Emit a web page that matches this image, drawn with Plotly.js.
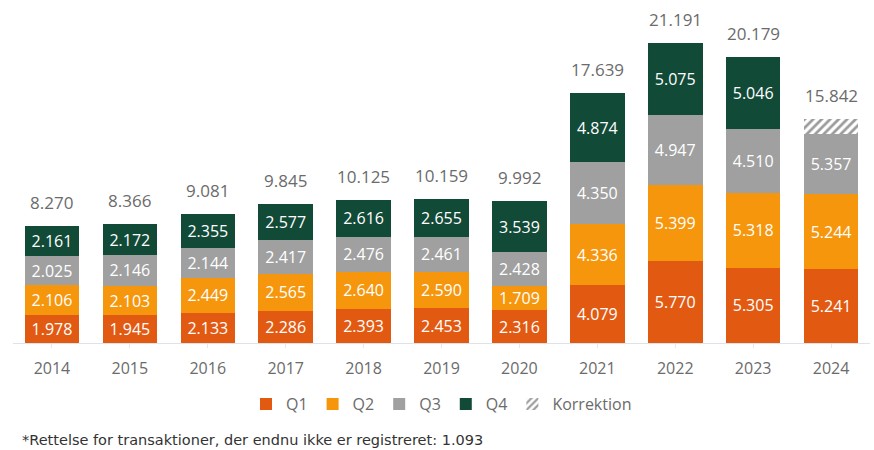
<!DOCTYPE html>
<html><head><meta charset="utf-8">
<script src="https://cdn.plot.ly/plotly-3.0.1.min.js"></script>
<style>body{margin:0;background:#fff}#c{width:874px;height:450px}</style>
</head><body><div id="c"></div>
<script>
const years = ['2014','2015','2016','2017','2018','2019','2020','2021','2022','2023','2024'];
const q1 = [1978,1945,2133,2286,2393,2453,2316,4079,5770,5305,5241];
const q2 = [2106,2103,2449,2565,2640,2590,1709,4336,5399,5318,5244];
const q3 = [2025,2146,2144,2417,2476,2461,2428,4350,4947,4510,5357];
const q4 = [2161,2172,2355,2577,2616,2655,3539,4874,5075,5046,0];
const correction = [0,0,0,0,0,0,0,0,0,0,1093];
const totals = [8270,8366,9081,9845,10125,10159,9992,17639,21191,20179,15842];

const fmt = v => v ? (v/1000).toFixed(3) : '';
const font = "'Open Sans', Lato, sans-serif";
const seg = (name, y, color, text) => ({
  type:'bar', name, x: years, y, text, marker:{color},
  textposition:'inside', insidetextanchor:'middle', textangle:0, constraintext:'none',
  textfont:{color:'#ffffff', size:16, family:font}, hoverinfo:'none'
});
const q3drawn = q3.map((v,i)=>v - correction[i]);
const traces = [
  seg('Q1', q1, '#e25a12', q1.map(fmt)),
  seg('Q2', q2, '#f5960c', q2.map(fmt)),
  seg('Q3', q3drawn, '#a0a0a0', q3.map(fmt)),
  seg('Q4', q4, '#124a38', q4.map(fmt)),
  {type:'bar', name:'Korrektion', x: years, y: correction, hoverinfo:'none',
   marker:{color:'#ffffff', pattern:{shape:'/', fgcolor:'#9a9a9a', bgcolor:'#ffffff', size:6, solidity:0.45}}}
];
const annotations = years.map((yr,i)=>({
  x: i, y: totals[i], xref:'x', yref:'y', text: fmt(totals[i]), showarrow:false,
  yanchor:'bottom', yshift:10, font:{size:17, color:'#6b6b6b', family:font}
}));
annotations.push({xref:'paper', yref:'paper', x:0.008, y:-0.285, xanchor:'left', yanchor:'middle',
  text:'*Rettelse for transaktioner, der endnu ikke er registreret: 1.093', showarrow:false,
  font:{size:14.5, color:'#333333', family:"'DejaVu Sans', sans-serif"}});
const layout = {
  width:874, height:450, barmode:'stack', bargap:0.3,
  margin:{l:13, r:4, t:3, b:107},
  paper_bgcolor:'#ffffff', plot_bgcolor:'#ffffff',
  font:{family:font, color:'#6b6b6b'},
  xaxis:{type:'category', showgrid:false, showline:true, linecolor:'#dde3e8', linewidth:1,
    ticks:'outside', ticklen:4, tickcolor:'#e3e8ec', ticklabelstandoff:7,
    tickfont:{size:16, color:'#6b6b6b', family:font}},
  yaxis:{range:[0,24000], visible:false, showgrid:false, zeroline:false},
  showlegend:true,
  legend:{orientation:'h', x:0.5, xanchor:'center', y:-0.18, yanchor:'middle',
    font:{size:16, color:'#6b6b6b', family:font}, traceorder:'normal'},
  annotations
};
Plotly.newPlot('c', traces, layout, {displayModeBar:false});
</script></body></html>
